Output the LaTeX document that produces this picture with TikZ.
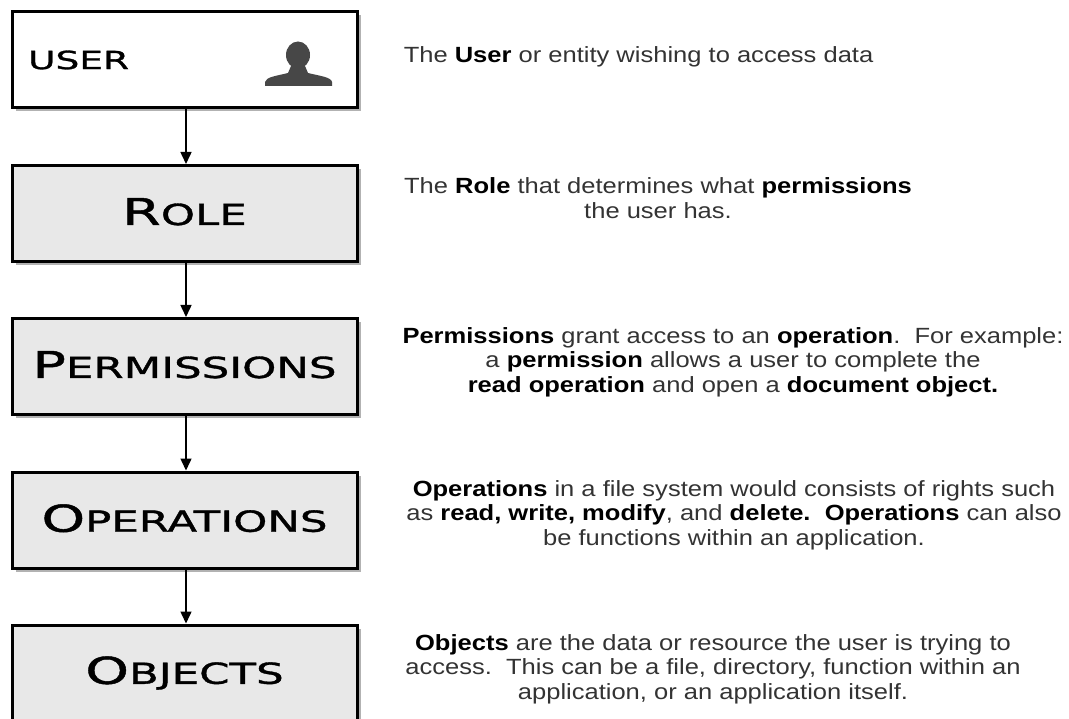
\documentclass[tikz,border=0pt]{standalone}
\usepackage{fontspec}
\usetikzlibrary{shadows,arrows.meta}
\newfontfamily\descfont[FakeStretch=1.16]{Liberation Sans}
\newfontfamily\capfont[FakeStretch=1.5,FakeBold=1.2]{DejaVu Sans}
\newcommand{\capsc}[2]{{\fontsize{37}{37}\selectfont #1}{\fontsize{29}{29}\selectfont #2}}

\begin{document}
\begin{tikzpicture}[x=1pt,y=-1pt,-{Triangle[length=12pt,width=11pt]},line width=1.5pt]
    \tikzstyle{layer}=[rectangle,draw=black,line width=3pt,fill=black!9,minimum width=345pt,minimum height=96pt,inner sep=0pt,
        drop shadow={shadow xshift=3.5pt,shadow yshift=-3.5pt,opacity=0.5,fill=black!60},font=\capfont]
    \tikzstyle{desc}=[align=center,inner sep=0pt,text=black!80,font=\descfont\fontsize{22}{24.5}\selectfont]
    \useasboundingbox (0,0) rectangle (1069,719);

    \node[layer,fill=white] (user) at (184.5,60) {};
    \node[anchor=west,font=\capfont\fontsize{25}{25}\selectfont] (user-lbl) at (24,60) {USER};
    \foreach \name/\y/\first/\rest in {role/213.5/R/OLE, perm/366.5/P/ERMISSIONS, oper/520/O/PERATIONS, obj/673/O/BJECTS}
        \node[layer] (\name) at (184.5,\y) {\raisebox{4pt}{\capsc{\first}{\rest}}};

    % person icon
    \fill[black!72] (298,55) ellipse (12 and 13.5);
    \fill[black!72] (265,86) -- (265,82) .. controls (266,77) and (276,76) .. (288,73)
        -- (291,66) -- (305,66) -- (308,73) .. controls (320,76) and (331,77) .. (332,82) -- (332,86) -- cycle;

    \foreach \from/\to in {user/role, role/perm, perm/oper, oper/obj}
        \draw ([xshift=1.5pt]\from.south) -- ([xshift=1.5pt]\to.north);

    \node[desc,anchor=west] (user-txt) at (403,57) {The \textbf{\color{black}User} or entity wishing to access data};
    \node[desc] (role-txt) at (658,198) {The \textbf{\color{black}Role} that determines what \textbf{\color{black}permissions}\\the user has.};
    \node[desc] (perm-txt) at (733,362) {\textbf{\color{black}Permissions} grant access to an \textbf{\color{black}operation}.\ \ For example:\\
        a \textbf{\color{black}permission} allows a user to complete the\\
        \textbf{\color{black}read operation} and open a \textbf{\color{black}document object.}};
    \node[desc] (oper-txt) at (734,515) {\textbf{\color{black}Operations} in a file system would consists of rights such\\
        as \textbf{\color{black}read, write, modify}, and \textbf{\color{black}delete.\ \ Operations} can also\\
        be functions within an application.};
    \node[desc] (obj-txt) at (713,669) {\textbf{\color{black}Objects} are the data or resource the user is trying to\\
        access.\ \ This can be a file, directory, function within an\\
        application, or an application itself.};
\end{tikzpicture}
\end{document}
